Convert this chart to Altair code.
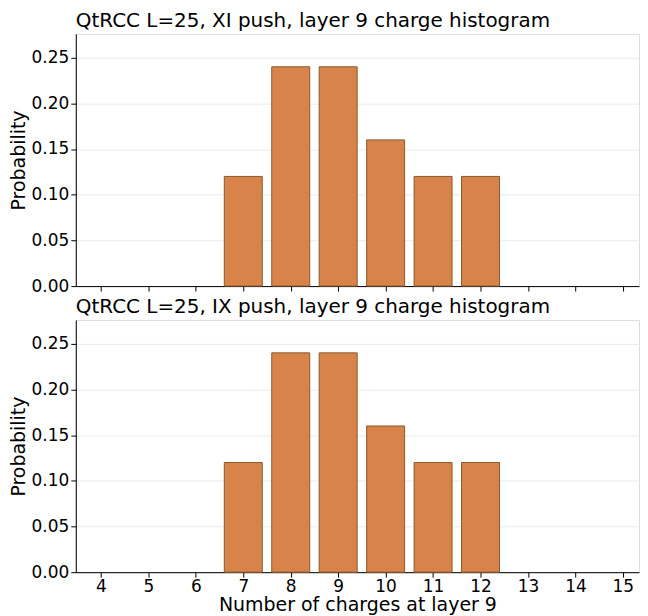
import altair as alt
import pandas as pd

charges = [7, 8, 9, 10, 11, 12]
probs_xi = [0.12, 0.24, 0.24, 0.16, 0.12, 0.12]
probs_ix = [0.12, 0.24, 0.24, 0.16, 0.12, 0.12]
x_ticks = list(range(4, 16))
y_ticks = [0.0, 0.05, 0.10, 0.15, 0.20, 0.25]
titles = ["QtRCC L=25, XI push, layer 9 charge histogram",
          "QtRCC L=25, IX push, layer 9 charge histogram"]
x_title = "Number of charges at layer 9"
y_title = "Probability"

FONT = "DejaVu Sans"
FILL = "#d8834a"
EDGE = "#8a5a2c"


def panel(probs, title, show_labels):
    df = pd.DataFrame({"charge": charges, "prob": probs})
    xaxis = alt.Axis(
        values=x_ticks, labels=show_labels, title=x_title if show_labels else None,
        grid=False, tickColor="black", domainColor="black", tickSize=5,
        labelFontSize=17, titleFontSize=19, labelColor="black", titleColor="black",
        labelFont=FONT, titleFont=FONT, titleFontWeight="normal", labelPadding=1,
        titlePadding=1,
    )
    yaxis = alt.Axis(
        values=y_ticks, format=".2f", title=y_title, grid=True, gridColor="#ebebf0",
        tickColor="black", domainColor="black", tickSize=5, labelFontSize=17,
        titleFontSize=19, labelColor="black", titleColor="black", labelFont=FONT,
        titleFont=FONT, titleFontWeight="normal", labelPadding=2, titlePadding=3,
    )
    return (
        alt.Chart(df)
        .transform_calculate(x0="datum.charge - 0.4", x1="datum.charge + 0.4")
        .mark_bar(fill=FILL, stroke=EDGE, strokeWidth=1)
        .encode(
            x=alt.X("x0:Q", scale=alt.Scale(domain=[3.47, 15.34], nice=False, zero=False), axis=xaxis),
            x2="x1:Q",
            y=alt.Y("prob:Q", scale=alt.Scale(domain=[0, 0.276], nice=False), axis=yaxis),
            y2=alt.datum(0),
        )
        .properties(
            width=565, height=253,
            title=alt.TitleParams(title, anchor="start", frame="group", fontSize=20, font=FONT,
                                  fontWeight="normal", color="black", offset=3),
        )
    )


chart = (
    alt.vconcat(panel(probs_xi, titles[0], False), panel(probs_ix, titles[1], True), spacing=1)
    .properties(padding={"left": 0, "top": 1, "right": 0, "bottom": 0})
    .configure_view(stroke=None)
    .configure(background="white")
)

chart.save("out.html", embed_options={"renderer": "svg", "actions": False})
